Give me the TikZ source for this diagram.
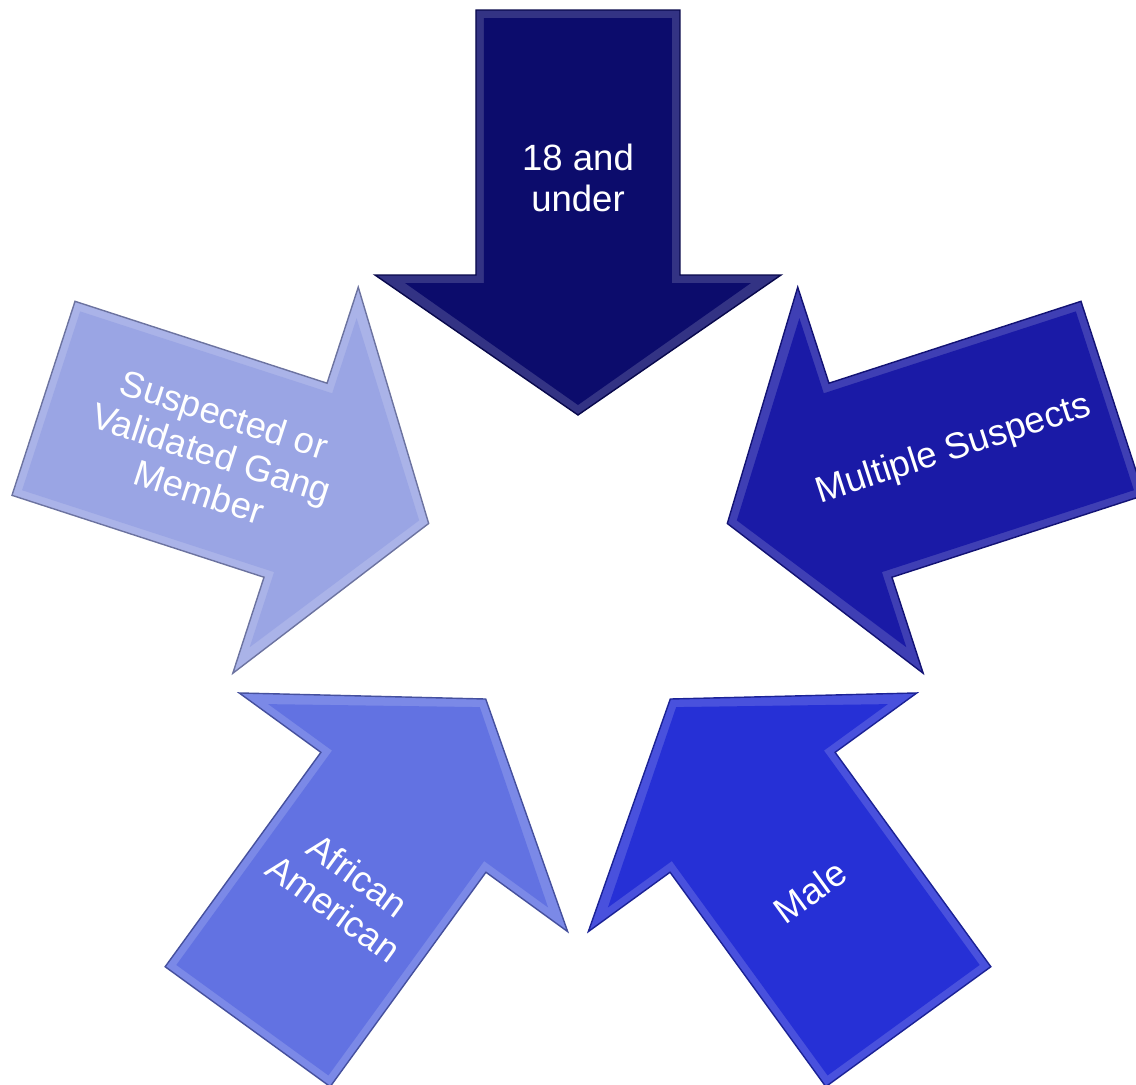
\documentclass[tikz,border=0pt]{standalone}
\usepackage{fontspec}
\setmainfont{Liberation Sans}
\definecolor{topblue}{HTML}{0C0C6C}
\definecolor{rightblue}{HTML}{1A1AA6}
\definecolor{maleblue}{HTML}{2630D6}
\definecolor{afblue}{HTML}{6272E2}
\definecolor{gangblue}{HTML}{9AA5E4}
\begin{document}
\begin{tikzpicture}[line join=miter,
  rim/.style={fill=#1!84!white,draw=#1!70!black,line width=0.4pt},
  lbl/.style={text=white,align=center,font=\fontsize{10.4}{11.6}\selectfont}]
\useasboundingbox (0,0) rectangle (11.36,-10.85);
\coordinate (C) at (5.78,-5.72);
\foreach \i/\col in {0/topblue,1/rightblue,2/maleblue,3/afblue,4/gangblue}{
  \begin{scope}[shift={(C)},rotate=-72*\i]
    \draw[rim=\col] (0,1.57)--(2.03,2.97)--(1.02,2.97)--(1.02,5.62)--(-1.02,5.62)--(-1.02,2.97)--(-2.03,2.97)--cycle;
    \fill[\col] (0,1.67)--(1.73,2.89)--(0.94,2.89)--(0.94,5.54)--(-0.94,5.54)--(-0.94,2.89)--(-1.73,2.89)--cycle;
  \end{scope}
}
\node[lbl] (under) at ([shift={(90:3.94)}]C) {18 and\\under};
\node[lbl,rotate=18] (multi) at ([shift={(18:3.95)}]C) {Multiple Suspects};
\node[lbl,rotate=36] (male) at ([shift={(-54:3.95)}]C) {Male};
\node[lbl,rotate=-36] (afam) at ([shift={(-126:3.95)}]C) {African\\American};
\node[lbl,rotate=-18] (gang) at ([shift={(162:3.85)}]C) {Suspected or\\Validated Gang\\Member};
\end{tikzpicture}
\end{document}
